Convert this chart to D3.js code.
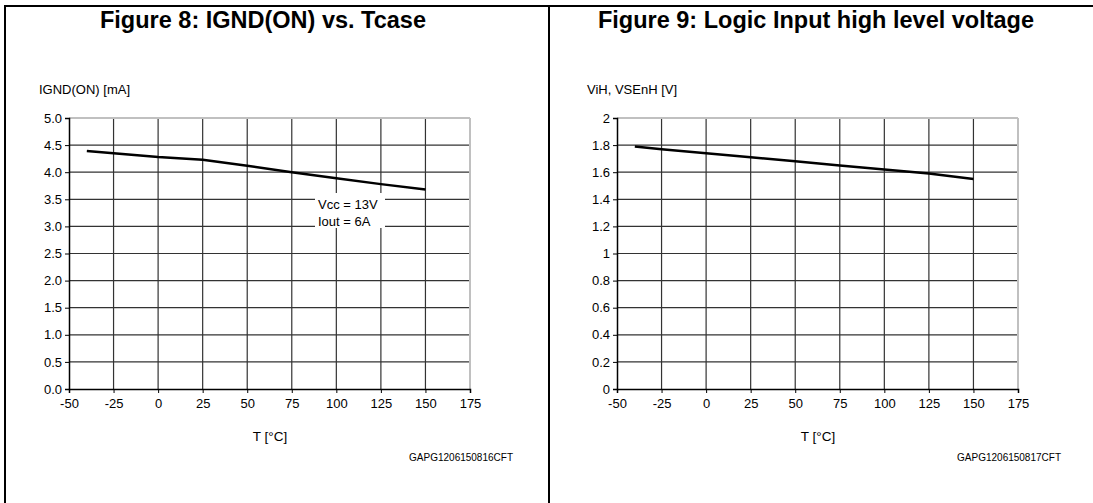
<!DOCTYPE html>
<html>
<head>
<meta charset="utf-8">
<script src="https://cdn.jsdelivr.net/npm/d3@7"></script>
<style>
  body { margin: 0; background: #fff; }
  svg { display: block; font-family: "Liberation Sans", Arial, sans-serif; }
  .title { font-size: 23.5px; font-weight: bold; }
  .lbl { font-size: 13px; }
  .tick text { font-size: 13px; fill: #000; }
</style>
</head>
<body>
<svg id="chart" width="1093" height="503"></svg>
<script>
"use strict";

// shared x axis: case temperature
var tempTicks = [-50, -25, 0, 25, 50, 75, 100, 125, 150, 175];

// Figure 8: IGND(ON) vs Tcase
var fig8Temp = [-40, -25, 0, 25, 50, 75, 100, 125, 150];
var fig8Ignd = [4.39, 4.35, 4.28, 4.23, 4.12, 4.00, 3.89, 3.78, 3.68];
var fig8YTicks = [0, 0.5, 1, 1.5, 2, 2.5, 3, 3.5, 4, 4.5, 5];

// Figure 9: logic input high level voltage
var fig9Temp = [-40, -25, 0, 25, 50, 75, 100, 125, 150];
var fig9Vih = [1.79, 1.77, 1.74, 1.71, 1.68, 1.65, 1.62, 1.59, 1.55];
var fig9YTicks = [0, 0.2, 0.4, 0.6, 0.8, 1, 1.2, 1.4, 1.6, 1.8, 2];

var svg = d3.select("#chart");

// frame lines
svg.append("line").attr("x1", 4).attr("x2", 1093).attr("y1", 6).attr("y2", 6)
    .attr("stroke", "#000").attr("stroke-width", 2);
svg.append("line").attr("x1", 5).attr("x2", 5).attr("y1", 5).attr("y2", 503)
    .attr("stroke", "#000").attr("stroke-width", 2);
svg.append("line").attr("x1", 549).attr("x2", 549).attr("y1", 5).attr("y2", 503)
    .attr("stroke", "#000").attr("stroke-width", 2);

function drawPanel(opt) {
    var g = svg.append("g").attr("transform", "translate(" + opt.offset + ",0)");

    g.append("text").attr("class", "title")
        .attr("x", opt.titleX).attr("y", 28).attr("text-anchor", "middle")
        .text(opt.title);

    var x = d3.scaleLinear().domain([-50, 175]).range([69, 470]);
    var y = d3.scaleLinear().domain([0, opt.yMax]).range([389, 118]);

    // grid
    var grid = g.append("g");
    grid.selectAll(".vg").data(tempTicks.slice(1, -1)).enter().append("line")
        .attr("x1", function (d) { return x(d); }).attr("x2", function (d) { return x(d); })
        .attr("y1", y(0)).attr("y2", y(opt.yMax))
        .attr("stroke", "#333").attr("stroke-width", 1.2);
    grid.selectAll(".hg").data(opt.yTicks.slice(1, -1)).enter().append("line")
        .attr("x1", x(-50)).attr("x2", x(175))
        .attr("y1", function (d) { return y(d); }).attr("y2", function (d) { return y(d); })
        .attr("stroke", "#333").attr("stroke-width", 1.2);
    // light top / right edges
    grid.append("line").attr("x1", x(-50)).attr("x2", x(175))
        .attr("y1", y(opt.yMax)).attr("y2", y(opt.yMax))
        .attr("stroke", "#c0c0c0").attr("stroke-width", 2);
    grid.append("line").attr("x1", x(175)).attr("x2", x(175))
        .attr("y1", y(0)).attr("y2", y(opt.yMax))
        .attr("stroke", "#c0c0c0").attr("stroke-width", 2);

    // annotation box (covers grid)
    if (opt.note) {
        g.append("rect").attr("x", 315).attr("y", 193).attr("width", 70).attr("height", 35)
            .attr("fill", "#fff");
        g.append("text").attr("class", "lbl").attr("x", 318).attr("y", 208.5)
            .text(opt.note[0]);
        g.append("text").attr("class", "lbl").attr("x", 318).attr("y", 226)
            .text(opt.note[1]);
    }

    var xAxis = d3.axisBottom(x).tickValues(tempTicks).tickSize(4).tickPadding(6)
        .tickFormat(function (d) { return String(d); });
    var yAxis = d3.axisLeft(y).tickValues(opt.yTicks).tickSize(4).tickPadding(3)
        .tickFormat(opt.yFormat);
    g.append("g").attr("transform", "translate(0," + y(0) + ")").call(xAxis)
        .call(function (a) { a.select(".domain").attr("stroke-width", 1.5); });
    g.append("g").attr("transform", "translate(" + x(-50) + ",0)").call(yAxis)
        .call(function (a) { a.select(".domain").attr("stroke-width", 1.5); });

    var line = d3.line()
        .x(function (d) { return x(d[0]); })
        .y(function (d) { return y(d[1]); });
    g.append("path")
        .datum(d3.zip(opt.temp, opt.vals))
        .attr("d", line)
        .attr("fill", "none").attr("stroke", "#000").attr("stroke-width", 2.5);

    g.append("text").attr("class", "lbl").attr("x", 39).attr("y", 94).text(opt.yLabel);
    g.append("text").attr("class", "lbl").attr("x", 270).attr("y", 441)
        .attr("text-anchor", "middle").style("font-size", "13.5px").text("T [°C]");
    g.append("text").attr("class", "lbl").attr("x", 513).attr("y", 461)
        .attr("text-anchor", "end").style("font-size", "10px").text(opt.code);
}

drawPanel({
    offset: 0,
    titleX: 263,
    title: "Figure 8: IGND(ON) vs. Tcase",
    yLabel: "IGND(ON) [mA]",
    yMax: 5,
    yTicks: fig8YTicks,
    yFormat: d3.format(".1f"),
    temp: fig8Temp,
    vals: fig8Ignd,
    note: ["Vcc  = 13V", "Iout = 6A"],
    code: "GAPG1206150816CFT"
});

drawPanel({
    offset: 548,
    titleX: 268,
    title: "Figure 9: Logic Input high level voltage",
    yLabel: "ViH, VSEnH [V]",
    yMax: 2,
    yTicks: fig9YTicks,
    yFormat: function (d) { return String(d); },
    temp: fig9Temp,
    vals: fig9Vih,
    note: null,
    code: "GAPG1206150817CFT"
});
</script>
</body>
</html>
